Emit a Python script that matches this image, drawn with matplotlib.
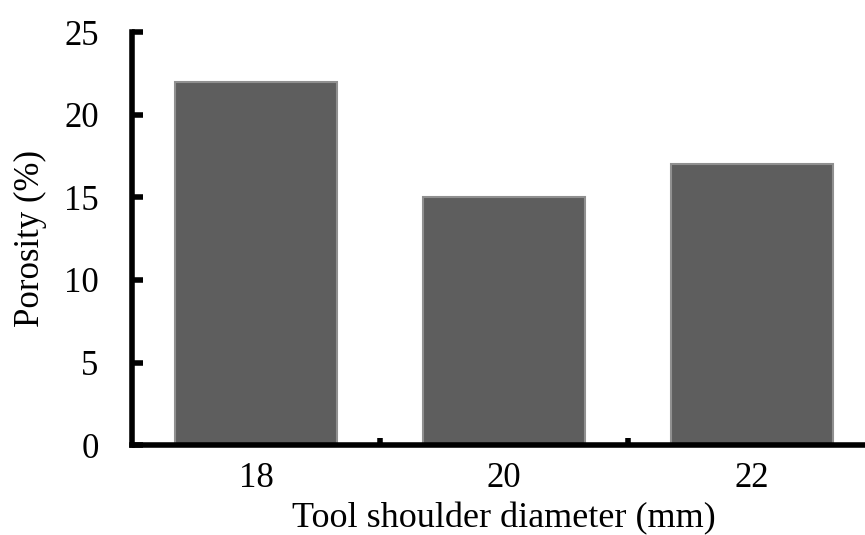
import matplotlib.pyplot as plt
from matplotlib.ticker import FixedLocator

diameters = ['18', '20', '22']
porosity = [22, 15, 17]

plt.rcParams['font.family'] = ['Liberation Serif', 'DejaVu Serif']

fig = plt.figure(figsize=(8.65, 5.35), dpi=100)
ax = fig.add_axes([0.1526, 0.168, 0.860, 0.772])

x = list(range(len(diameters)))
ax.bar(x, porosity, width=0.65, color='#5e5e5e', edgecolor='#909090', linewidth=1.5, zorder=2)

ax.set_xlim(-0.5, len(diameters) - 0.5)
ax.set_ylim(0, 25)
ax.set_yticks([0, 5, 10, 15, 20, 25])
ax.set_xticks(x)
ax.set_xticklabels(diameters)
ax.xaxis.set_minor_locator(FixedLocator([0.5, 1.5]))

for s in ['top', 'right']:
    ax.spines[s].set_visible(False)
for s in ['left', 'bottom']:
    ax.spines[s].set_linewidth(4)
    ax.spines[s].set_zorder(3)

ax.tick_params(axis='y', direction='in', length=8, width=4, labelsize=25, pad=24)
ax.tick_params(axis='x', which='major', length=0, labelsize=25, pad=12)
ax.tick_params(axis='x', which='minor', direction='in', length=5, width=4)

ax.set_ylabel('Porosity (%)', fontsize=25, labelpad=12)
ax.set_xlabel('Tool shoulder diameter (mm)', fontsize=26, labelpad=5)

fig.savefig('out.png', dpi=100)
